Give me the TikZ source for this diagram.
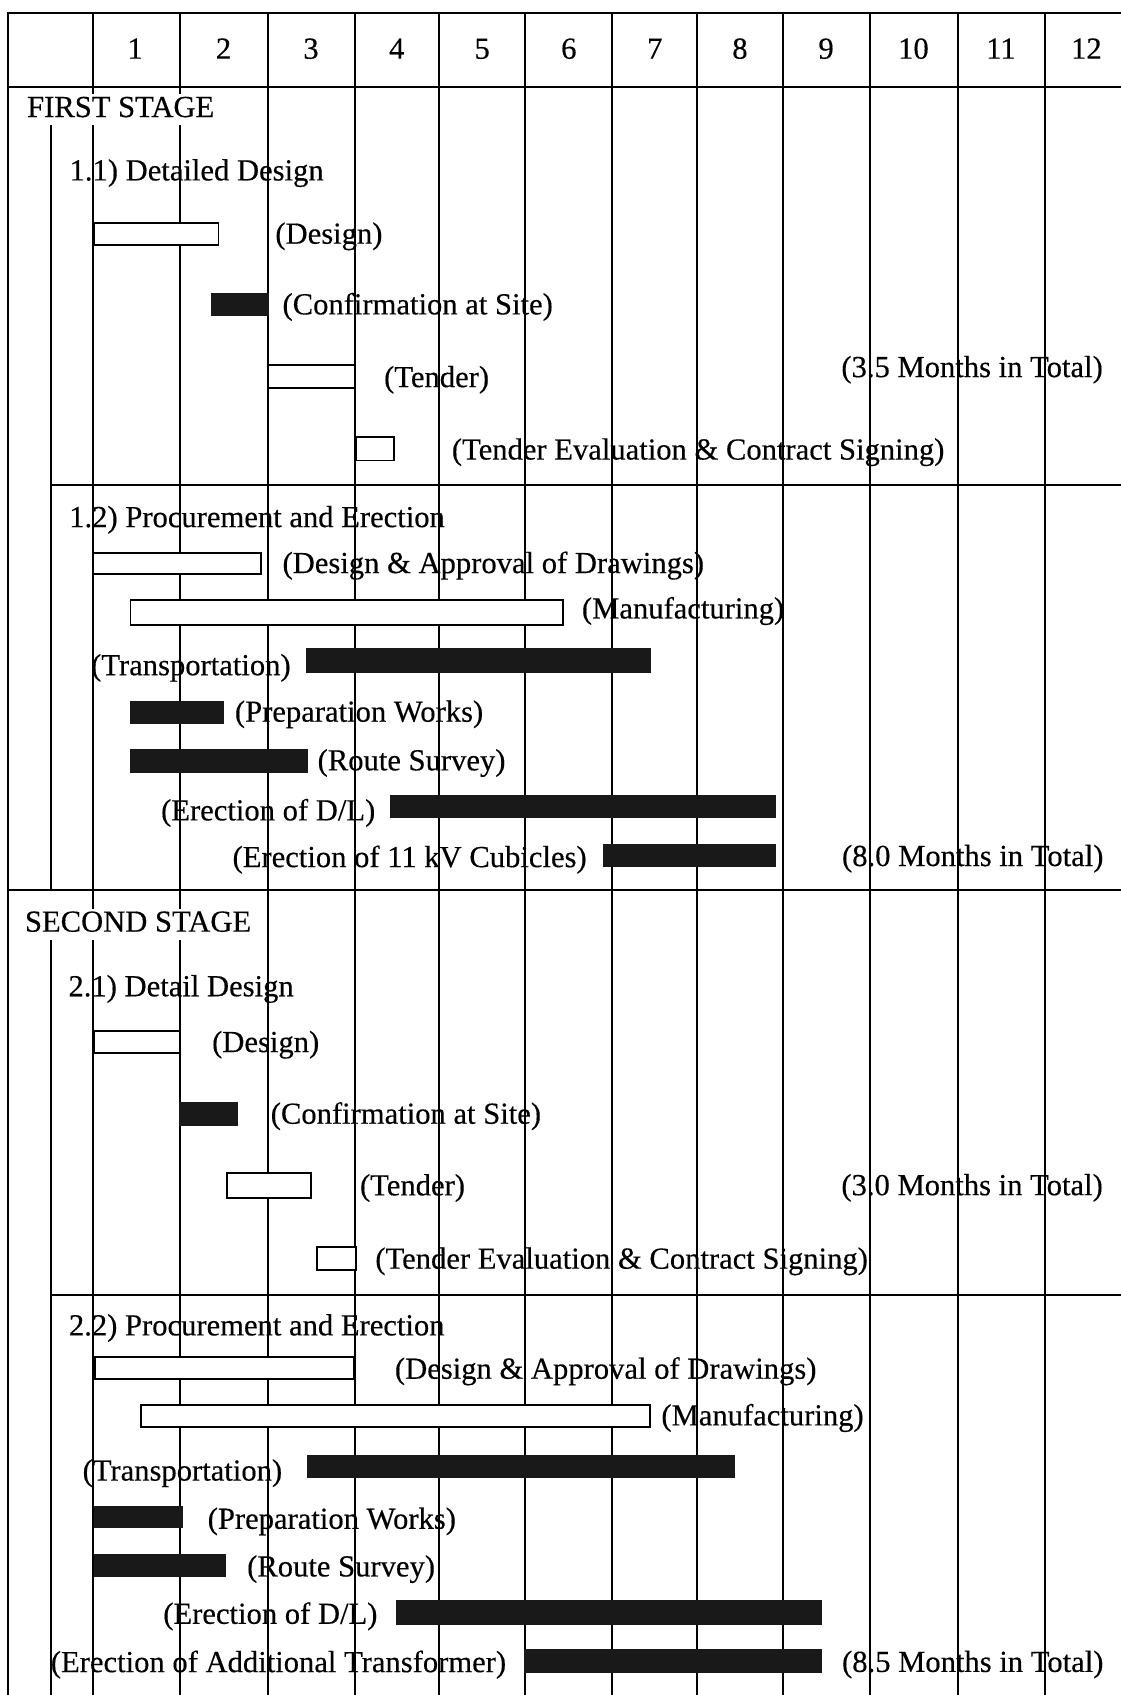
\documentclass[tikz,border=0pt]{standalone}
\usepackage{fontspec}
\setmainfont{Liberation Serif}[BoldFont=Liberation Serif, BoldFeatures={FakeBold=0.35}]
\begin{document}
\begin{tikzpicture}[x=0.5405pt,y=-0.5405pt,
  gridline/.style={line width=1.05pt, black, line cap=rect},
  wbar/.style={draw=black, fill=white, line width=0.9pt},
  bbar/.style={fill=black!90, draw=black!90, line width=0.3pt},
  lbl/.style={anchor=west, inner sep=0pt, text height=12.2pt, text depth=1.8pt, font=\fontsize{15.3}{18}\selectfont\bfseries},
  stagelbl/.style={anchor=west, fill=white, inner xsep=3pt, inner ysep=0.8pt, text height=10.6pt, text depth=3.4pt, font=\fontsize{15.3}{18}\selectfont\bfseries},
  monthlbl/.style={anchor=base, inner sep=0pt, font=\fontsize{15.3}{18}\selectfont\bfseries}]

\useasboundingbox (0,0) rectangle (1037,1568);
\fill[white] (0,0) rectangle (1037,1568);

% ---- grid ----
\draw[gridline] (7.3,12.3) -- (1037,12.3);
\draw[gridline] (7.3,80.8) -- (1037,80.8);
\draw[gridline] (47.2,449) -- (1037,449);
\draw[gridline] (7.3,823.5) -- (1037,823.5);
\draw[gridline] (47.2,1198) -- (1037,1198);
\draw[gridline] (7.3,12.3) -- (7.3,1570);
\draw[gridline] (47.2,116) -- (47.2,823.5);
\draw[gridline] (47.2,868) -- (47.2,1570);
\foreach \x in {86.4,166.1,247.5,328,406,486,566.5,645,724,804.5,886,966.5}
  \draw[gridline] (\x,12.3) -- (\x,1570);

% ---- month numbers ----
\foreach \i/\x in {1/125,2/206.8,3/287.7,4/367,5/446,6/526.2,7/605.7,8/684.5,9/764.2,10/845,11/926,12/1005}
  \node[monthlbl] (m\i) at (\x,54.3) {\i};

% ---- bars, first stage ----
\path[wbar] (86.6,206) rectangle (202.2,226.6);
\path[bbar] (195.6,271.4) rectangle (247.8,291.4);
\path[wbar] (248,337.6) rectangle (328.5,359.2);
\path[wbar] (329,404) rectangle (364.4,426);
\path[wbar] (86.4,511.2) rectangle (241.6,531.3);
\path[wbar] (120.8,555) rectangle (521,578);
\path[bbar] (283,599.7) rectangle (601.8,622.3);
\path[bbar] (120.8,649) rectangle (206.3,669);
\path[bbar] (120.8,693) rectangle (284.6,714.5);
\path[bbar] (361,735.4) rectangle (717.4,756.4);
\path[bbar] (558.4,780.8) rectangle (717.4,801.7);

% ---- bars, second stage ----
\path[wbar] (87.3,953.8) rectangle (166.1,973.8);
\path[bbar] (166.1,1020) rectangle (219.5,1041.3);
\path[wbar] (210,1085.4) rectangle (287.9,1108);
\path[wbar] (293.5,1153.3) rectangle (329,1174.8);
\path[wbar] (87.8,1255) rectangle (327.3,1275.6);
\path[wbar] (130.4,1299.8) rectangle (601.3,1320.4);
\path[bbar] (284,1346) rectangle (679,1367);
\path[bbar] (87.3,1393.2) rectangle (168.4,1413.2);
\path[bbar] (87.3,1437.6) rectangle (208,1458.5);
\path[bbar] (366.9,1480) rectangle (759.6,1502.6);
\path[bbar] (484.6,1525.5) rectangle (759.6,1547);

% ---- labels, first stage ----
\node[stagelbl] (s1) at (19.2,101.6) {FIRST STAGE};
\node[lbl] (h11) at (64,157.3) {1.1) Detailed Design};
\node[lbl] (a1) at (254.4,215.8) {(Design)};
\node[lbl] (a2) at (261,281.2) {(Confirmation at Site)};
\node[lbl] (a3) at (355,348.5) {(Tender)};
\node[lbl] (t1) at (778,339.2) {(3.5 Months in Total)};
\node[lbl] (a4) at (417.7,415.5) {(Tender Evaluation \& Contract Signing)};
\node[lbl] (h12) at (63.7,478) {1.2) Procurement and Erection};
\node[lbl] (b1) at (261,520.5) {(Design \& Approval of Drawings)};
\node[lbl] (b2) at (538,562.5) {(Manufacturing)};
\node[lbl] (b3) at (84,615) {(Transportation)};
\node[lbl] (b4) at (217,658) {(Preparation Works)};
\node[lbl] (b5) at (293.5,703) {(Route Survey)};
\node[lbl] (b6) at (148.7,749.3) {(Erection of D/L)};
\node[lbl] (b7) at (214.8,792.5) {(Erection of 11 kV Cubicles)};
\node[lbl] (t2) at (778.6,791.5) {(8.0 Months in Total)};

% ---- labels, second stage ----
\node[stagelbl] (s2) at (17.2,855.2) {SECOND STAGE};
\node[lbl] (h21) at (63,912) {2.1) Detail Design};
\node[lbl] (c1) at (195.9,963.6) {(Design)};
\node[lbl] (c2) at (250.1,1029.9) {(Confirmation at Site)};
\node[lbl] (c3) at (332.7,1096.2) {(Tender)};
\node[lbl] (t3) at (778,1096) {(3.0 Months in Total)};
\node[lbl] (c4) at (346.9,1164) {(Tender Evaluation \& Contract Signing)};
\node[lbl] (h22) at (63.4,1225.7) {2.2) Procurement and Erection};
\node[lbl] (d1) at (365,1265.8) {(Design \& Approval of Drawings)};
\node[lbl] (d2) at (611.5,1309) {(Manufacturing)};
\node[lbl] (d3) at (76.1,1360) {(Transportation)};
\node[lbl] (d4) at (191.8,1404.6) {(Preparation Works)};
\node[lbl] (d5) at (228.3,1448.7) {(Route Survey)};
\node[lbl] (d6) at (150.7,1492.5) {(Erection of D/L)};
\node[lbl] (d7) at (46.7,1537.2) {(Erection of Additional Transformer)};
\node[lbl] (t4) at (778.6,1537) {(8.5 Months in Total)};
\end{tikzpicture}
\end{document}
